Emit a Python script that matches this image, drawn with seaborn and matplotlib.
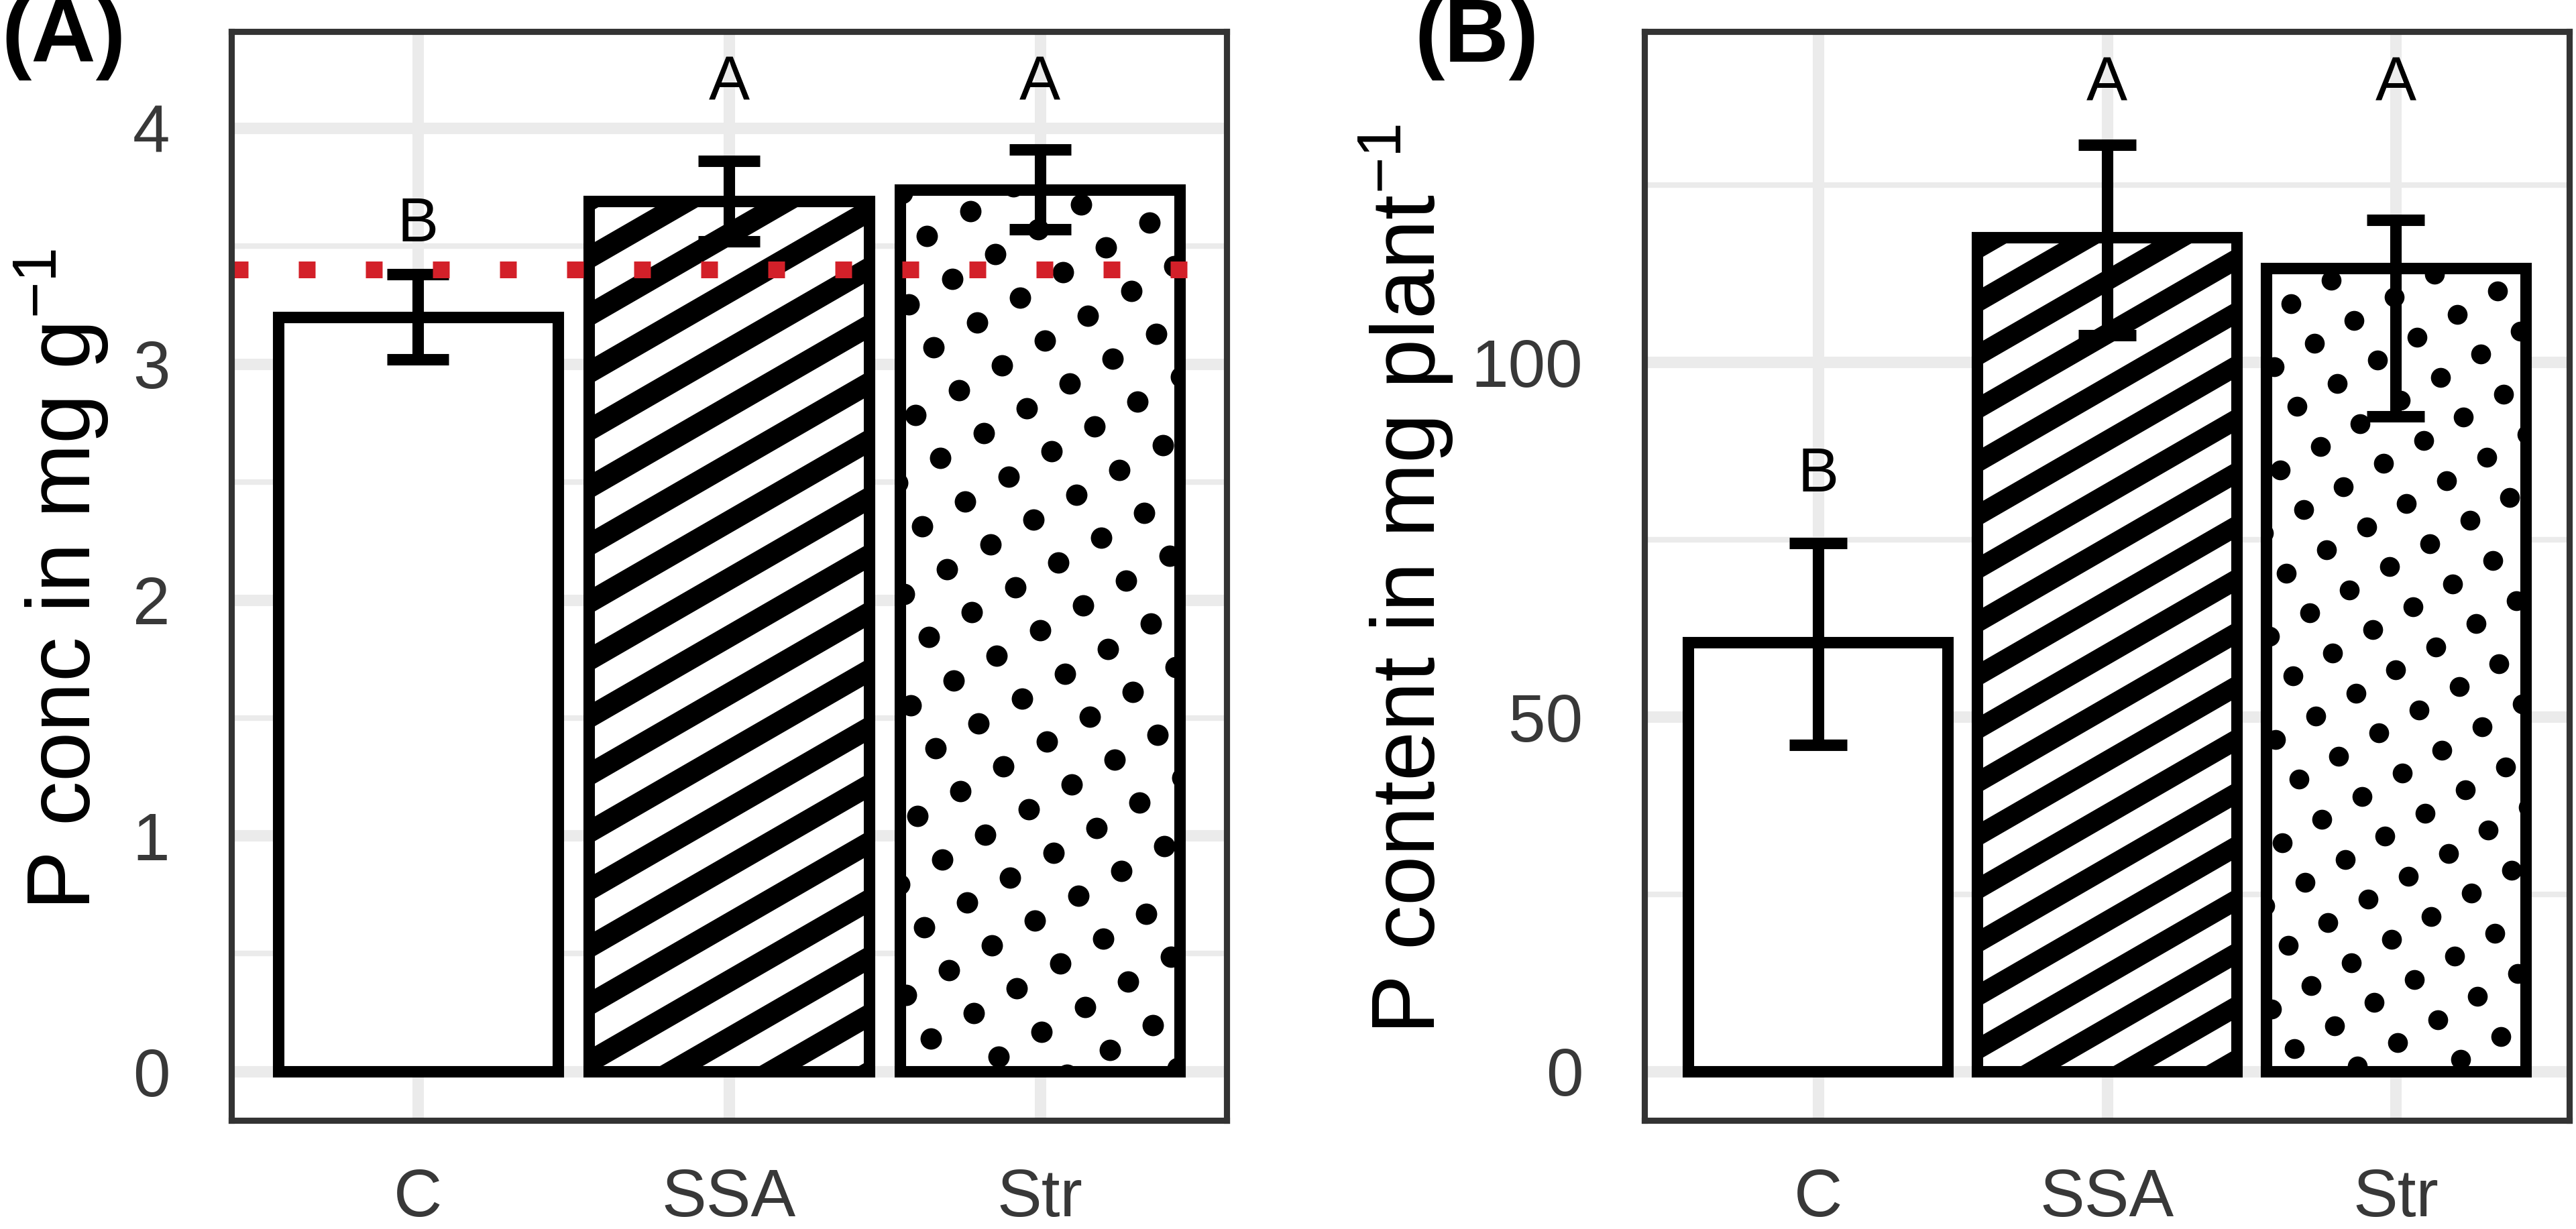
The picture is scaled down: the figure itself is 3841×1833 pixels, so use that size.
import numpy as np
import pandas as pd
import matplotlib
matplotlib.use('Agg')
import matplotlib.pyplot as plt
import matplotlib.transforms as mtransforms
from matplotlib.collections import LineCollection
from matplotlib.lines import Line2D
from matplotlib.ticker import MultipleLocator
import seaborn as sns

# data
treatments = ['C', 'SSA', 'Str']
patterns = ['none', 'stripe', 'circle']

# (A) P concentration, mg g-1
conc_mean = [3.20, 3.69, 3.74]
conc_low = [3.02, 3.52, 3.57]
conc_high = [3.38, 3.86, 3.91]
conc_letters = ['B', 'A', 'A']
conc_letter_y = [3.52, 4.12, 4.12]
conc_threshold = 3.4

# (B) P content, mg plant-1
cont_mean = [60.5, 117.6, 113.2]
cont_low = [46.0, 103.8, 92.3]
cont_high = [74.5, 130.6, 120.0]
cont_letters = ['B', 'A', 'A']
cont_letter_y = [81.8, 136.8, 136.8]

W, H, DPI = 3841, 1833, 300

sns.set_style('white')
plt.rcParams['font.family'] = ['Liberation Sans', 'DejaVu Sans']
plt.rcParams['mathtext.fontset'] = 'custom'
plt.rcParams['mathtext.rm'] = 'Liberation Sans'
plt.rcParams['mathtext.default'] = 'regular'

fig = plt.figure(figsize=(W / DPI, H / DPI), dpi=DPI)
fig.patch.set_facecolor('white')


def px_rect(left, top, right, bottom):
    return [left / W, 1 - bottom / H, (right - left) / W, (bottom - top) / H]


axA = fig.add_axes(px_rect(345, 47, 1829, 1671))
axB = fig.add_axes(px_rect(2452, 47, 3831, 1671))

ident = mtransforms.IdentityTransform()


def add_pattern(ax, bar, kind):
    # pattern spacing is 5% of the panel width, like ggpattern
    panel_w = ax.get_position().width * W
    spacing = 0.05 * panel_w
    size_pt = 0.43 * spacing * 72 / DPI
    x0, y0 = ax.transData.transform((bar.get_x(), bar.get_y()))
    x1, y1 = ax.transData.transform((bar.get_x() + bar.get_width(), bar.get_y() + bar.get_height()))
    cx, cy = (x0 + x1) / 2, (y0 + y1) / 2
    ang = np.deg2rad(30)
    d = np.array([np.cos(ang), np.sin(ang)])
    n = np.array([-np.sin(ang), np.cos(ang)])
    big = abs(x1 - x0) + abs(y1 - y0)
    k = int(big / spacing) + 2
    if kind == 'stripe':
        segs = []
        for i in range(-k, k + 1):
            p = np.array([cx, cy]) + i * spacing * n
            segs.append([p - big * d, p + big * d])
        lc = LineCollection(segs, colors='black', linewidths=size_pt,
                            capstyle='butt', transform=ident, zorder=2)
        ax.add_collection(lc, autolim=False)
        lc.set_clip_path(bar)
    elif kind == 'circle':
        ii, jj = np.meshgrid(np.arange(-k, k + 1), np.arange(-k, k + 1))
        pts = np.array([cx, cy]) + (ii.ravel()[:, None] * d + jj.ravel()[:, None] * n) * spacing
        ln = Line2D(pts[:, 0], pts[:, 1], linestyle='none', marker='o', markersize=size_pt,
                    markerfacecolor='black', markeredgewidth=0, transform=ident, zorder=2)
        ax.add_artist(ln)
        ln.set_clip_path(bar)


def panel(ax, mean, low, high, letters, letter_y, ylim, major, minor, label, tag, label_x):
    df = pd.DataFrame({'treatment': treatments, 'value': mean})
    sns.barplot(data=df, x='treatment', y='value', color='white', saturation=1,
                edgecolor='black', linewidth=4.1, width=0.9, errorbar=None, ax=ax, zorder=1)
    ax.set_xlim(-0.6, 2.6)
    ax.set_ylim(*ylim)

    ax.set_axisbelow(True)
    ax.yaxis.set_major_locator(MultipleLocator(major))
    ax.yaxis.set_minor_locator(MultipleLocator(minor))
    ax.grid(True, which='major', color='#EBEBEB', lw=4.1)
    ax.grid(True, which='minor', axis='y', color='#EBEBEB', lw=2.0)
    ax.tick_params(which='major', length=12, width=4.1, color='#333333',
                   labelsize=24, labelcolor='#383838')
    ax.tick_params(axis='y', pad=10)
    ax.tick_params(axis='x', pad=4.8)
    ax.tick_params(which='minor', length=0)
    for sp in ax.spines.values():
        sp.set_visible(True)
        sp.set_color('#333333')
        sp.set_linewidth(2.2)
        sp.set_zorder(6)
    ax.set_xlabel('')
    ax.set_ylabel('')

    bars = list(ax.patches)
    for bar, kind in zip(bars, patterns):
        add_pattern(ax, bar, kind)

    # error bar cap = 0.2 of the category spacing
    spacing_px = ax.transData.transform((1, 0))[0] - ax.transData.transform((0, 0))[0]
    cap = 0.1 * spacing_px * 72 / DPI
    mean_a = np.array(mean)
    yerr = [mean_a - np.array(low), np.array(high) - mean_a]
    ax.errorbar(range(len(treatments)), mean_a, yerr=yerr, fmt='none', ecolor='black',
                elinewidth=4.1, capsize=cap, capthick=4.1, zorder=3)

    for i, (lt, ly) in enumerate(zip(letters, letter_y)):
        ax.text(i, ly, lt, ha='center', va='baseline', fontsize=22, color='black', zorder=7)

    fig.text(label_x / W, 1 - 864 / H, label, rotation=90, ha='right', va='center',
             fontsize=32, color='black')
    left_px = ax.get_position().x0 * W
    fig.text((left_px - 343) / W, 1 - 92 / H, tag, ha='left', va='baseline',
             fontsize=32, fontweight='bold', color='black')


panel(axA, conc_mean, conc_low, conc_high, conc_letters, conc_letter_y,
      (-0.207, 4.41), 1, 0.5, r'P conc in mg g$^{-1}$', '(A)', 165)
axA.axhline(conc_threshold, color='#d32029', lw=6, linestyle=(0, (1, 3)),
            dash_capstyle='butt', zorder=5)

panel(axB, cont_mean, cont_low, cont_high, cont_letters, cont_letter_y,
      (-6.9, 146.6), 50, 25, r'P content in mg plant$^{-1}$', '(B)', 2170)

fig.savefig('out.png', dpi=DPI, facecolor='white')
